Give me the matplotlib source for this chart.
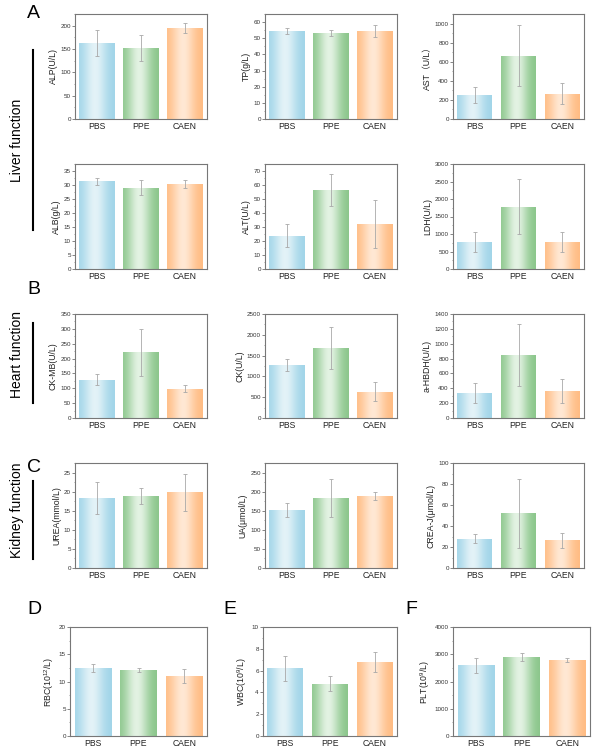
import numpy as np
import matplotlib.pyplot as plt
from matplotlib.ticker import MultipleLocator, AutoMinorLocator

plt.rcParams['font.family'] = ['Liberation Sans', 'Noto Sans CJK SC']
plt.rcParams['mathtext.fontset'] = 'custom'
plt.rcParams['mathtext.rm'] = 'Liberation Sans'
plt.rcParams['mathtext.default'] = 'regular'

groups = ['PBS', 'PPE', 'CAEN']

# 读图估计的均值和误差
alp_mean = [163, 152, 195]
alp_err = [27, 27, 10]
tp_mean = [54.5, 53.2, 54.3]
tp_err = [1.8, 1.8, 3.8]
ast_mean = [250, 665, 265]
ast_err = [83, 323, 110]
alb_mean = [31.3, 29.0, 30.3]
alb_err = [1.2, 2.7, 1.4]
alt_mean = [23.7, 56.3, 32.2]
alt_err = [8.3, 11.5, 17.0]
ldh_mean = [780, 1780, 780]
ldh_err = [290, 790, 290]
ckmb_mean = [129, 221, 98]
ckmb_err = [18, 80, 12]
ck_mean = [1270, 1680, 630]
ck_err = [140, 500, 230]
hbdh_mean = [335, 845, 362]
hbdh_err = [135, 420, 160]
urea_mean = [18.3, 18.9, 19.8]
urea_err = [4.1, 2.1, 4.9]
ua_mean = [151, 184, 189]
ua_err = [18, 50, 10]
crea_mean = [28, 52, 26.5]
crea_err = [4, 33, 7]
rbc_mean = [12.5, 12.1, 11.0]
rbc_err = [0.8, 0.35, 1.3]
wbc_mean = [6.2, 4.8, 6.8]
wbc_err = [1.15, 0.7, 0.9]
plt_mean = [2600, 2890, 2780]
plt_err = [280, 150, 80]

W, H = 604, 755
fig = plt.figure(figsize=(W / 100, H / 100), dpi=100)

edge_cols = [np.array([0.62, 0.83, 0.91]), np.array([0.53, 0.77, 0.53]), np.array([1.0, 0.73, 0.50])]
light_cols = [np.array([0.89, 0.95, 0.97]), np.array([0.89, 0.95, 0.89]), np.array([1.0, 0.91, 0.83])]

t = np.linspace(0, 1, 80)
wgt = np.exp(-((t - 0.45) / 0.32) ** 2)


def px_axes(l, tp, r, b):
    return fig.add_axes([l / W, 1 - b / H, (r - l) / W, (b - tp) / H])


def draw_panel(box, mean, err, ylabel, ymax, step):
    ax = px_axes(*box)
    x = np.arange(len(groups))
    bars = ax.bar(x, mean, width=0.8, color='none', edgecolor='none', zorder=2)
    for i, p in enumerate(bars.patches):
        grad = edge_cols[i][None, :] * (1 - wgt[:, None]) + light_cols[i][None, :] * wgt[:, None]
        x0, y0 = p.get_x(), p.get_y()
        im = ax.imshow(grad[None, :, :], extent=[x0, x0 + p.get_width(), y0, y0 + p.get_height()],
                       aspect='auto', zorder=1, interpolation='bilinear')
        im.set_clip_path(p)
    ax.errorbar(x, mean, yerr=err, fmt='none', ecolor='#a8a8a8', elinewidth=0.6,
                capsize=1.5, capthick=0.6, zorder=3)
    ax.set_xlim(-0.5, 2.5)
    ax.set_ylim(0, ymax)
    ax.set_xticks(x)
    ax.set_xticklabels(groups, fontsize=6.2, color='#222222')
    ax.yaxis.set_major_locator(MultipleLocator(step))
    ax.yaxis.set_minor_locator(AutoMinorLocator(2))
    ax.tick_params(axis='x', length=0, pad=2)
    ax.tick_params(axis='y', which='major', length=2, width=0.5, labelsize=4.5, pad=1,
                   colors='#555555', labelcolor='#333333')
    ax.tick_params(axis='y', which='minor', length=1, width=0.4, colors='#555555')
    for s in ax.spines.values():
        s.set_color('#777777')
        s.set_linewidth(0.8)
    ax.set_ylabel(ylabel, fontsize=6.3, labelpad=2, color='#222222')
    return ax


cols = [(75, 207), (265, 397), (453, 584)]
rows = [(14, 119), (164, 269), (314, 418), (463, 568)]

panels = [
    (alp_mean, alp_err, 'ALP(U/L)', 225, 50),
    (tp_mean, tp_err, 'TP(g/L)', 65, 10),
    (ast_mean, ast_err, 'AST（U/L）', 1100, 200),
    (alb_mean, alb_err, 'ALB(g/L)', 37.5, 5),
    (alt_mean, alt_err, 'ALT(U/L)', 75, 10),
    (ldh_mean, ldh_err, 'LDH(U/L)', 3000, 500),
    (ckmb_mean, ckmb_err, 'CK-MB(U/L)', 350, 50),
    (ck_mean, ck_err, 'CK(U/L)', 2500, 500),
    (hbdh_mean, hbdh_err, 'a-HBDH(U/L)', 1400, 200),
    (urea_mean, urea_err, 'UREA(mmol/L)', 27.5, 5),
    (ua_mean, ua_err, 'UA(μmol/L)', 275, 50),
    (crea_mean, crea_err, 'CREA-J(μmol/L)', 100, 20),
]
for k, (m, e, lab, ym, st) in enumerate(panels):
    r, c = divmod(k, 3)
    draw_panel((cols[c][0], rows[r][0], cols[c][1], rows[r][1]), m, e, lab, ym, st)

# 最后一行
bottom_cols = [(70, 207), (263, 397), (453, 590)]
bottom = [
    (rbc_mean, rbc_err, r'RBC(10$^{12}$/L)', 20, 5),
    (wbc_mean, wbc_err, r'WBC(10$^{9}$/L)', 10, 2),
    (plt_mean, plt_err, r'PLT(10$^{9}$/L)', 4000, 1000),
]
for c, (m, e, lab, ym, st) in enumerate(bottom):
    draw_panel((bottom_cols[c][0], 627, bottom_cols[c][1], 736), m, e, lab, ym, st)

# 面板字母
for letter, xp, yp in [('A', 27, 14), ('B', 27, 290), ('C', 27, 468),
                       ('D', 27, 609), ('E', 223, 609), ('F', 405, 609)]:
    fig.text(xp / W, 1 - yp / H, letter, fontsize=14, va='center', ha='left')

# 侧边标题和竖线
for label, ty, y0, y1 in [('Liver function', 140, 50, 230),
                          ('Heart function', 355, 323, 403),
                          ('Kidney function', 510, 481, 559)]:
    fig.text(17 / W, 1 - ty / H, label, fontsize=10, rotation=90, va='center', ha='center')
    fig.add_artist(plt.Line2D([33 / W, 33 / W], [1 - y0 / H, 1 - y1 / H], color='black', lw=1.5))

fig.savefig('out.png', dpi=100)
